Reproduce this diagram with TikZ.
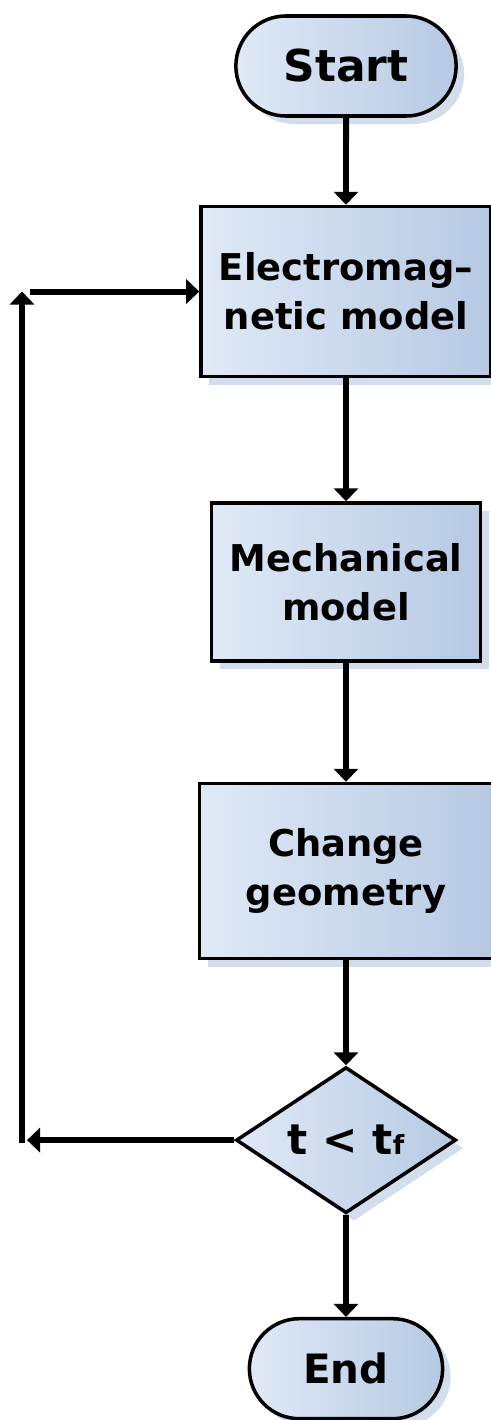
\documentclass[tikz,border=0pt]{standalone}
\usepackage{fontspec}
\setmainfont{DejaVu Sans}
\usetikzlibrary{arrows.meta,positioning,shapes.geometric,shapes.misc,shadows}
\definecolor{boxlight}{RGB}{224,233,246}
\definecolor{boxdark}{RGB}{182,201,227}
\definecolor{shadowblue}{RGB}{212,221,236}

\begin{document}
\begin{tikzpicture}[
      font=\bfseries\fontsize{21}{28}\selectfont,
      fillbox/.style={draw, line width=2pt, left color=boxlight, right color=boxdark,
        drop shadow={shadow xshift=0.16cm, shadow yshift=-0.16cm, fill=shadowblue, opacity=1}},
      term/.style={fillbox, rounded rectangle, minimum width=4.64cm, minimum height=2.0cm},
      box/.style={fillbox, align=center, minimum width=5.8cm, minimum height=3.4cm},
      test/.style={fillbox, diamond, inner sep=0pt, minimum width=4.4cm, minimum height=2.45cm},
      arr/.style={-{Triangle[length=2.6mm, width=4.8mm]}, line width=3.4pt}
    ]
      \useasboundingbox (0,0) rectangle (9.82,-28.4);
      \node[term, font=\bfseries\fontsize{25}{30}\selectfont] (start) at (6.92,-1.32) {Start};
      \node[box, below=1.74cm of start] (em) {Electromag–\\netic model};
      \node[box, minimum width=5.38cm, minimum height=3.16cm, below=2.46cm of em] (mech) {Mechanical\\model};
      \node[box, minimum width=5.86cm, minimum height=3.5cm, below=2.38cm of mech] (geom) {Change\\geometry};
      \node[test, font=\bfseries\fontsize{24}{28}\selectfont, below=2.1cm of geom] (check) {t~<~t{\fontsize{15}{15}\selectfont f}};
      \node[term, minimum width=4.1cm, font=\bfseries\fontsize{23}{28}\selectfont, below=2.04cm of check] (stop) {End};
      % feedback loop corners
      \coordinate (lx) at (0.44,0);
      \coordinate (lb) at (check.west -| lx);
      \coordinate (lt) at (em.west -| lx);
      \draw[arr] (start) -- (em);
      \draw[arr] (em) -- (mech);
      \draw[arr] (mech) -- (geom);
      \draw[arr] (geom) -- (check);
      \draw[arr] (check) -- (stop);
      \draw[arr, shorten >=0.1cm] (check.west) -- (lb);
      \draw[arr, shorten <=-0.06cm] (lb) -- (lt);
      \draw[arr, shorten <=0.16cm] (lt) -- (em.west);
    \end{tikzpicture}
\end{document}
